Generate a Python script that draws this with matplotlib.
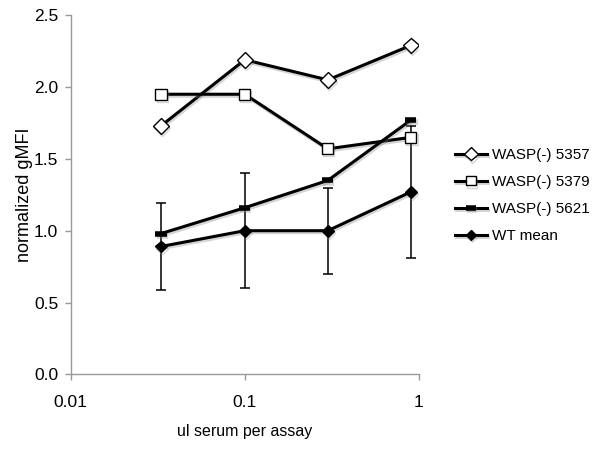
import matplotlib
matplotlib.use("Agg")
import matplotlib.pyplot as plt
import matplotlib.patheffects as pe
from matplotlib.ticker import FixedLocator, FixedFormatter, NullLocator

plt.rcParams['font.family'] = ['Liberation Sans', 'DejaVu Sans']

x = [0.033, 0.1, 0.3, 0.9]
wasp_5357 = [1.73, 2.19, 2.05, 2.29]
wasp_5379 = [1.95, 1.95, 1.57, 1.65]
wasp_5621 = [0.98, 1.16, 1.35, 1.77]
wt_mean = [0.89, 1.00, 1.00, 1.27]
wt_err = [0.30, 0.40, 0.30, 0.46]

labels = ['WASP(-) 5357', 'WASP(-) 5379', 'WASP(-) 5621', 'WT mean']
xticks = [0.01, 0.1, 1]
xticklabels = ['0.01', '0.1', '1']
yticks = [0.0, 0.5, 1.0, 1.5, 2.0, 2.5]

fig = plt.figure(figsize=(6.0, 4.58), dpi=100)
ax = fig.add_axes([0.118, 0.1827, 0.580, 0.784])

shadow = [pe.SimpleLineShadow(offset=(0.8, -1.5), shadow_color='#888888', alpha=0.35),
          pe.Normal()]

lw = 2.2
ax.errorbar(x, wt_mean, yerr=wt_err, fmt='none', ecolor='black', elinewidth=1.1,
            capsize=3.5, capthick=1.1, zorder=2)
h1, = ax.plot(x, wasp_5357, color='black', lw=lw, marker='D', ms=8,
              mfc='white', mec='black', mew=1.0, zorder=3, path_effects=shadow)
h2, = ax.plot(x, wasp_5379, color='black', lw=lw, marker='s', ms=8,
              mfc='white', mec='black', mew=1.0, zorder=3, path_effects=shadow)
h3, = ax.plot(x, wasp_5621, color='black', lw=lw, marker='_', ms=8,
              mew=4, mec='black', zorder=3, path_effects=shadow)
h4, = ax.plot(x, wt_mean, color='black', lw=lw, marker='D', ms=6,
              mfc='black', mec='black', zorder=3, path_effects=shadow)

ax.set_xscale('log')
ax.set_xlim(0.01, 1)
ax.set_ylim(0, 2.5)
ax.xaxis.set_major_locator(FixedLocator(xticks))
ax.xaxis.set_major_formatter(FixedFormatter(xticklabels))
ax.xaxis.set_minor_locator(NullLocator())
ax.set_yticks(yticks)
ax.set_yticklabels([f'{v:.1f}' for v in yticks])

for s in ['top', 'right']:
    ax.spines[s].set_visible(False)
for s in ['left', 'bottom']:
    ax.spines[s].set_color('#999999')
    ax.spines[s].set_linewidth(1.0)
ax.tick_params(axis='both', colors='#999999', length=4, width=1.0,
               labelcolor='black', labelsize=12.5)
ax.tick_params(axis='x', pad=11)
ax.tick_params(axis='y', pad=5)

ax.set_xlabel('ul serum per assay', fontsize=11.5, labelpad=10)
ax.set_ylabel('normalized gMFI', fontsize=13)
ax.yaxis.set_label_coords(-0.108, 0.5)

fig.legend([h1, h2, h3, h4], labels, loc='upper left',
           bbox_to_anchor=(0.748, 0.69), frameon=False, fontsize=11,
           handlelength=2.1, handletextpad=0.3, labelspacing=0.85,
           markerscale=0.85, borderaxespad=0)

fig.savefig('out.png', dpi=100)
